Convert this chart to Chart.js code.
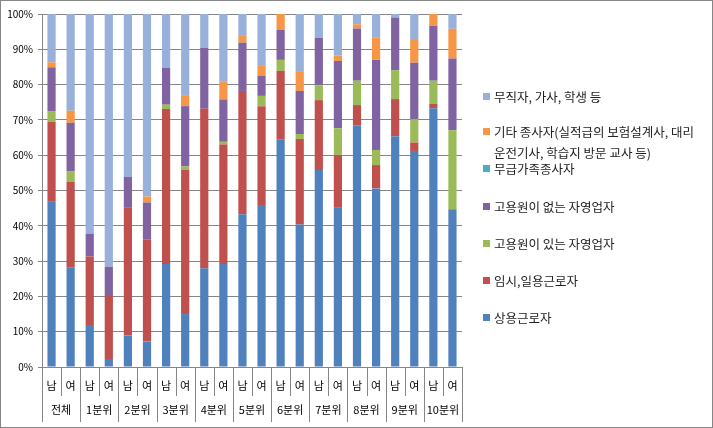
<!DOCTYPE html>
<html>
<head>
<meta charset="utf-8">
<script src="https://cdn.jsdelivr.net/npm/chart.js@4/dist/chart.umd.min.js"></script>
<style>
    html, body { margin: 0; padding: 0; background: #fff; }
    #wrap { position: relative; width: 713px; height: 428px; }
    #legend { position: absolute; left: 483px; top: 0; font-family: "Noto Sans CJK KR", sans-serif; font-size: 12.5px; color: #222; }
    .item { position: absolute; left: 0; white-space: nowrap; line-height: 21px; }
    .item i { position: absolute; left: 0; top: 7px; width: 7px; height: 7px; }
    .item span { position: absolute; left: 11px; top: 0; }
</style>
</head>
<body>
<div id="wrap">
    <canvas id="chart" width="713" height="428"></canvas>
    <div id="legend"></div>
</div>
<script>
// categories
const genders = ["남", "여", "남", "여", "남", "여", "남", "여", "남", "여", "남", "여",
    "남", "여", "남", "여", "남", "여", "남", "여", "남", "여"];
const groups = ["전체", "1분위", "2분위", "3분위", "4분위", "5분위", "6분위", "7분위", "8분위", "9분위", "10분위"];
const yTicks = [0, 10, 20, 30, 40, 50, 60, 70, 80, 90, 100];

// series values (%), bottom of stack first
const regular = [46.8, 28.1, 11.9, 2.0, 8.9, 7.2, 29.2, 15.0, 28.0, 29.2, 43.3, 45.9, 64.5, 40.4, 55.8, 45.1, 68.4, 50.6, 65.4, 61.2, 73.3, 44.7];
const temporary = [22.6, 24.3, 19.4, 18.4, 36.2, 29.0, 43.9, 40.8, 45.2, 33.8, 34.9, 28.0, 19.4, 24.2, 19.8, 15.0, 5.8, 6.6, 10.5, 2.4, 1.2, 0];
const selfWithStaff = [3.1, 3.1, 0, 0, 0, 0, 1.2, 1.0, 0, 0.8, 0, 2.9, 3.1, 1.4, 4.2, 7.5, 6.9, 4.3, 8.2, 6.6, 6.6, 22.4];
const selfNoStaff = [12.4, 13.7, 6.4, 8.0, 8.8, 10.4, 10.5, 17.1, 17.2, 12.0, 13.7, 5.7, 8.5, 12.2, 13.4, 19.1, 14.8, 25.5, 14.9, 16.0, 15.5, 20.3];
const unpaidFamily = [0, 0, 0, 0, 0, 0, 0, 0, 0, 0, 0, 0, 0, 0, 0, 0, 0, 0, 0, 0, 0, 0];
const otherWorkers = [1.4, 3.4, 0, 0, 0, 1.7, 0, 2.9, 0, 5.0, 1.9, 2.8, 4.5, 5.4, 0, 1.5, 1.2, 6.4, 0, 6.7, 3.4, 8.4];
const notWorking = [13.7, 27.4, 62.3, 71.6, 46.1, 51.7, 15.2, 23.2, 9.6, 19.2, 6.2, 14.7, 0, 16.4, 6.8, 11.8, 2.9, 6.6, 1.0, 7.1, 0, 4.2];

const seriesNames = ["상용근로자", "임시,일용근로자", "고용원이 있는 자영업자", "고용원이 없는 자영업자",
    "무급가족종사자", "기타 종사자(실적급의 보험설계사, 대리 운전기사, 학습지 방문 교사 등)", "무직자, 가사, 학생 등"];
const seriesData = [regular, temporary, selfWithStaff, selfNoStaff, unpaidFamily, otherWorkers, notWorking];
const seriesColors = ["#4F81BD", "#C0504D", "#9BBB59", "#8064A2", "#4BACC6", "#F79646", "#98B0DA"];

const axisGray = "#868686";
const labelFont = "'Noto Sans CJK KR', sans-serif";

// category labels, separators and frame
const multiLevelAxis = {
    id: "multiLevelAxis",
    beforeDraw(chart) {
        const ctx = chart.ctx;
        ctx.save();
        ctx.fillStyle = "#fff";
        ctx.fillRect(0, 0, chart.width, chart.height);
        ctx.restore();
    },
    afterDraw(chart) {
        const ctx = chart.ctx;
        const x = chart.scales.x;
        const bottom = chart.chartArea.bottom;
        const step = (x.right - x.left) / genders.length;
        ctx.save();
        ctx.strokeStyle = axisGray;
        ctx.lineWidth = 1;
        for (let i = 0; i <= genders.length; i++) {
            const px = Math.round(x.left + i * step) + 0.5;
            ctx.beginPath();
            ctx.moveTo(px, bottom);
            ctx.lineTo(px, i % 2 === 0 ? 422 : 396);
            ctx.stroke();
        }
        ctx.fillStyle = "#000";
        ctx.textAlign = "center";
        ctx.textBaseline = "middle";
        ctx.font = "11px " + labelFont;
        genders.forEach((g, i) => {
            ctx.fillText(g, x.getPixelForValue(i), 386);
        });
        groups.forEach((g, i) => {
            ctx.fillText(g, x.left + (i * 2 + 1) * step, 410);
        });
        ctx.strokeRect(0.5, 0.5, chart.width - 1, chart.height - 1);
        ctx.restore();
    }
};

new Chart(document.getElementById("chart").getContext("2d"), {
    type: "bar",
    data: {
        labels: genders,
        datasets: seriesNames.map((name, i) => ({
            label: name,
            data: seriesData[i],
            backgroundColor: seriesColors[i],
            borderWidth: 0,
            barPercentage: 0.43,
            categoryPercentage: 1
        }))
    },
    options: {
        responsive: false,
        animation: false,
        layout: {
            padding: { top: 14, right: 251, bottom: 61, left: 0 }
        },
        plugins: {
            legend: { display: false },
            tooltip: { enabled: false }
        },
        scales: {
            x: {
                stacked: true,
                ticks: { display: false },
                grid: { display: false },
                border: { display: true, color: axisGray },
                afterFit(scale) { scale.height = 0; }
            },
            y: {
                stacked: true,
                min: 0,
                max: 100,
                afterBuildTicks(scale) {
                    scale.ticks = yTicks.map(v => ({ value: v }));
                },
                ticks: {
                    callback: v => v + "%",
                    color: "#000",
                    padding: 5,
                    font: { family: labelFont, size: 10 }
                },
                grid: {
                    color: axisGray,
                    tickLength: 4,
                    drawTicks: true
                },
                border: { display: true, color: axisGray },
                afterFit(scale) { scale.width = 42; }
            }
        }
    },
    plugins: [multiLevelAxis]
});

// legend (top to bottom = reverse of stack order)
const legendRows = [
    { idx: 6, top: 86, lines: ["무직자, 가사, 학생 등"] },
    { idx: 5, top: 121, lines: ["기타 종사자(실적급의 보험설계사, 대리", "운전기사, 학습지 방문 교사 등)"] },
    { idx: 4, top: 158, lines: ["무급가족종사자"] },
    { idx: 3, top: 196, lines: ["고용원이 없는 자영업자"] },
    { idx: 2, top: 233, lines: ["고용원이 있는 자영업자"] },
    { idx: 1, top: 270, lines: ["임시,일용근로자"] },
    { idx: 0, top: 307, lines: ["상용근로자"] }
];
const legendEl = document.getElementById("legend");
legendRows.forEach(row => {
    const item = document.createElement("div");
    item.className = "item";
    item.style.top = row.top + "px";
    const box = document.createElement("i");
    box.style.background = seriesColors[row.idx];
    item.appendChild(box);
    const text = document.createElement("span");
    text.innerHTML = row.lines.join("<br>");
    item.appendChild(text);
    legendEl.appendChild(item);
});
</script>
</body>
</html>
